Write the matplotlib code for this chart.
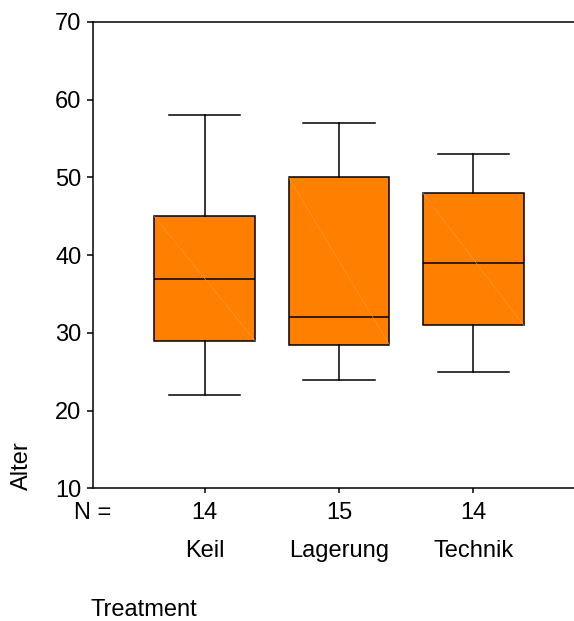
import matplotlib
matplotlib.use("Agg")
import matplotlib.pyplot as plt

plt.rcParams['font.family'] = ['Liberation Sans', 'DejaVu Sans']

# Boxplot-Kennwerte je Gruppe
gruppen = ["Keil", "Lagerung", "Technik"]
n_werte = [14, 15, 14]
minimum = [22, 24, 25]
q1 = [29, 28.5, 31]
median = [37, 32, 39]
q3 = [45, 50, 48]
maximum = [58, 57, 53]

fs = 17

fig = plt.figure(figsize=(5.74, 6.21), dpi=100)
ax = fig.add_axes([0.162, 0.2134, 0.838, 0.7512])

stats = []
for i, g in enumerate(gruppen):
    stats.append(dict(label=str(n_werte[i]), whislo=minimum[i], q1=q1[i],
                      med=median[i], q3=q3[i], whishi=maximum[i], fliers=[]))

pos = [1, 2, 3]
breite = 0.75
lw = 1.1
ax.bxp(stats, positions=pos, widths=breite, patch_artist=True, showfliers=False,
       boxprops=dict(facecolor='#FF8000', edgecolor='black', linewidth=lw),
       medianprops=dict(color='black', linewidth=lw),
       whiskerprops=dict(color='black', linewidth=lw),
       capprops=dict(color='black', linewidth=lw),
       capwidths=breite * 0.71)

# feine helle Diagonale in den Boxen
for i, p in enumerate(pos):
    ax.plot([p - breite / 2, p + breite / 2], [q3[i], q1[i]],
            color='#FF9C45', linewidth=0.4, zorder=3)

ax.set_xlim(0.168, 3.75)
ax.set_ylim(10, 70)
ax.set_yticks(range(10, 71, 10))
ax.set_xticks(pos)
ax.set_xticklabels([str(n) for n in n_werte])

ax.spines['right'].set_visible(False)
for s in ['left', 'bottom', 'top']:
    ax.spines[s].set_linewidth(lw)

ax.tick_params(axis='y', length=4.3, width=lw, labelsize=fs, pad=4)
ax.tick_params(axis='x', length=3.6, width=lw, labelsize=fs, pad=6)

trans = ax.get_xaxis_transform()
ax.text(0.168, -0.052, "N =", transform=trans, ha='center', va='center', fontsize=fs)
for i, g in enumerate(gruppen):
    ax.text(pos[i], -0.133, g, transform=trans, ha='center', va='center', fontsize=fs)

fig.text(0.038, 0.211, "Alter", rotation=90, ha='center', va='bottom', fontsize=fs)
fig.text(0.158, 0.018, "Treatment", ha='left', va='center', fontsize=fs)

fig.savefig("out.png", dpi=100)
